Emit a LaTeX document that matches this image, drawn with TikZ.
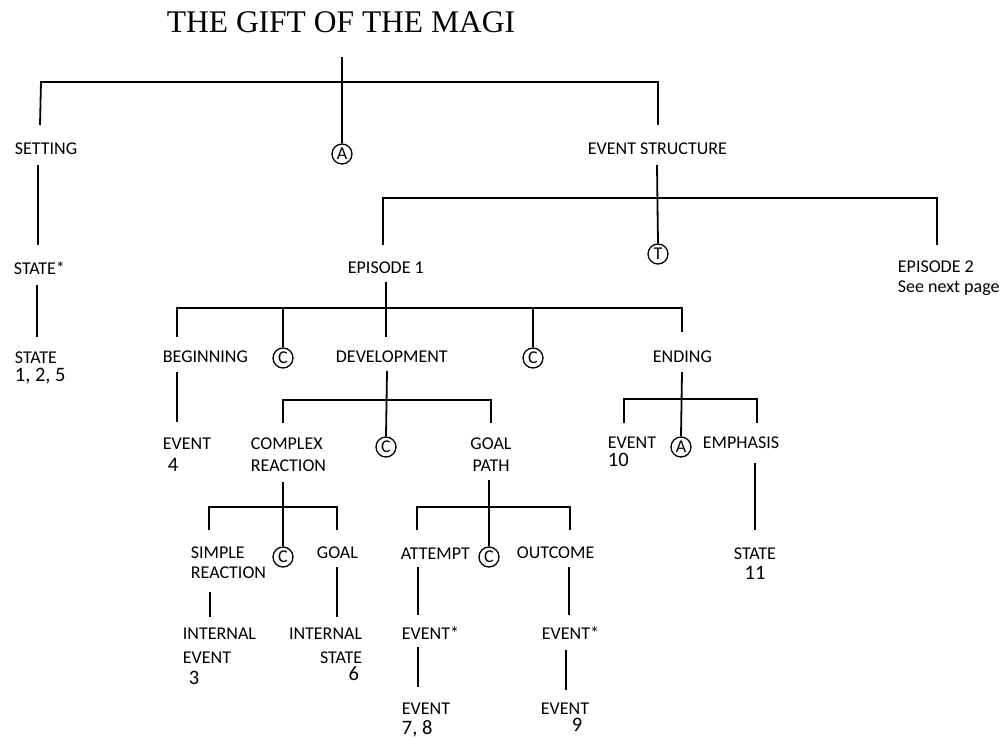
\documentclass[tikz,border=0pt]{standalone}
\usepackage{fontspec}
\setmainfont{Carlito}
\newfontfamily\titlefont{Liberation Serif}
\usepackage{tikz}
\newcommand{\nb}[1]{{\fontsize{20.5}{22}\selectfont #1}}

\begin{document}
\begin{tikzpicture}[x=1pt, y=-1pt, line width=1.8pt,
                lbl/.style={anchor=north west, inner sep=0pt, align=left,
                    font=\fontsize{18}{22}\selectfont},
                tag/.style={circle, draw, line width=1.3pt, inner sep=0pt,
                    minimum size=20pt, font=\fontsize{18}{18}\selectfont}]

            \useasboundingbox (0,0) rectangle (1004,738);

            % title and top level
            \node[anchor=north, inner sep=0pt, font=\titlefont\fontsize{31.5}{34}\selectfont] (title) at (341,11) {THE GIFT OF THE MAGI};
            \node[lbl] (setting) at (14,142) {SETTING};
            \node[lbl] (evstruct) at (587,142) {EVENT STRUCTURE};
            \node[tag] (andA) at (342,154) {A};
            \draw (342,57) -- (andA.north);
            \draw (40,125) -- (41,82) -- (658,82) -- (658,125);

            % setting branch
            \node[lbl] (stateS) at (13,261) {STATE*};
            \node[lbl] (state125) at (14,351) {STATE\\[-4pt]\nb{1, 2, 5}};
            \draw (38,165) -- (38,245);
            \draw (37,285) -- (37,337);

            % event structure
            \node[lbl] (episode1) at (347,261) {EPISODE 1};
            \node[lbl] (episode2) at (897,260) {EPISODE 2\\[-2pt]See next page};
            \node[tag] (thenT) at (658,254) {T};
            \draw (657,165) -- (thenT.north);
            \draw (383,245) -- (383,198) -- (937,198) -- (937,245);

            % episode 1
            \node[lbl] (beginning) at (162,350) {BEGINNING};
            \node[lbl] (development) at (335,350) {DEVELOPMENT};
            \node[lbl] (ending) at (652,350) {ENDING};
            \node[tag] (causeC1) at (283,358) {C};
            \node[tag] (causeC2) at (533,358) {C};
            \draw (386,282) -- (386,337);
            \draw (177,337) -- (177,308) -- (682,308) -- (682,332);
            \draw (283,308) -- (causeC1.north);
            \draw (533,308) -- (causeC2.north);

            % beginning
            \node[lbl] (event4) at (162,437) {EVENT\\\hspace*{5pt}\nb{4}};
            \draw (177,372) -- (177,422);

            % development
            \node[lbl] (complex) at (250,437) {COMPLEX\\REACTION};
            \node[lbl, anchor=north, align=center] (goalpath) at (491,437) {GOAL\\PATH};
            \node[tag] (causeC3) at (386,447) {C};
            \draw (387,371) -- (causeC3.north);
            \draw (283,423) -- (283,400) -- (491,400) -- (491,423);

            % ending
            \node[lbl] (event10) at (607,436) {EVENT\\[-4pt]\nb{10}};
            \node[lbl] (emphasis) at (702,436) {EMPHASIS};
            \node[tag] (andA2) at (681,447) {A};
            \draw (682,372) -- (andA2.north);
            \draw (624,423) -- (624,399) -- (757,399) -- (757,423);
            \node[lbl, anchor=north, align=center] (state11) at (755,547) {STATE\\[-2pt]\nb{11}};
            \draw (755,463) -- (755,530);

            % complex reaction
            \node[lbl] (simple) at (190,546) {SIMPLE\\[-2pt]REACTION};
            \node[lbl] (goal) at (316,546) {GOAL};
            \node[tag] (causeC4) at (283,557) {C};
            \draw (283,482) -- (causeC4.north);
            \draw (209,530) -- (209,507) -- (337,507) -- (337,530);
            \node[lbl] (intevent) at (182,627) {INTERNAL\\[2pt]EVENT\\[-1pt]\hspace*{6pt}\nb{3}};
            \node[lbl, anchor=north east, align=right] (intstate) at (363,627) {INTERNAL\\[2pt]STATE\\[-5pt]\nb{6}\hspace*{3pt}};
            \draw (210,592) -- (210,617);
            \draw (337,567) -- (337,617);

            % goal path
            \node[lbl] (attempt) at (400,547) {ATTEMPT};
            \node[lbl] (outcome) at (516,546) {OUTCOME};
            \node[tag] (causeC5) at (489,557) {C};
            \draw (489,480) -- (causeC5.north);
            \draw (417,530) -- (417,507) -- (570,507) -- (570,530);
            \node[lbl] (evstarA) at (401,626) {EVENT*};
            \node[lbl] (evstarB) at (541,626) {EVENT*};
            \draw (418,567) -- (418,615);
            \draw (569,567) -- (569,615);
            \node[lbl] (event78) at (401,702) {EVENT\\[-2pt]\nb{7, 8}};
            \node[lbl] (event9) at (540,702) {EVENT\\[-5pt]\hspace*{31pt}\nb{9}};
            \draw (418,647) -- (418,687);
            \draw (566,650) -- (566,690);
        \end{tikzpicture}
\end{document}
